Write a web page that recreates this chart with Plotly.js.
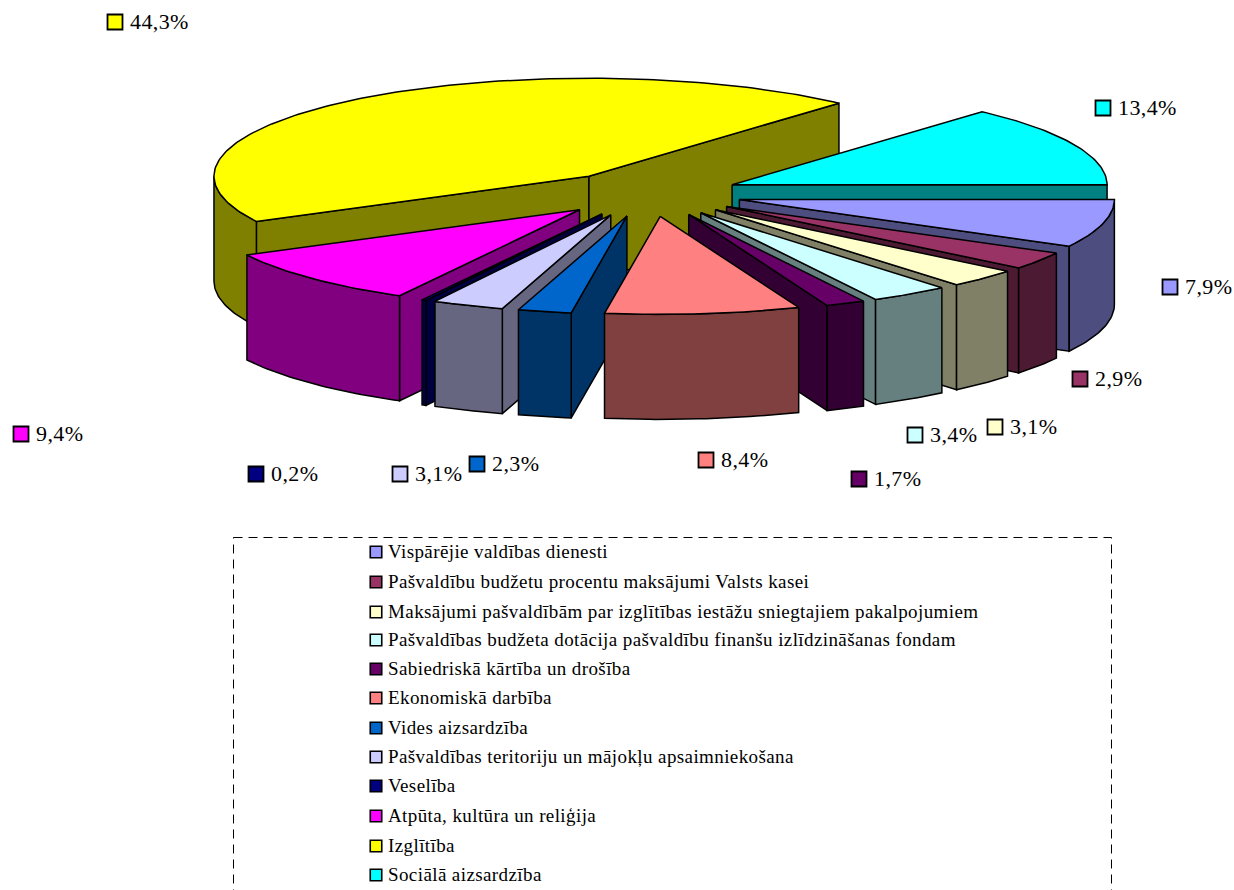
<!DOCTYPE html>
<html>
<head>
<meta charset="utf-8">
<script src="https://cdn.plot.ly/plotly-3.0.1.min.js"></script>
<style>html,body{margin:0;padding:0;background:#fff;overflow:hidden}
.annotation-text{letter-spacing:.4px}</style>
</head>
<body>
<div id="chart" style="width:1234px;height:890px"></div>
<script>
// Data
const categories = [
  "Vispārējie valdības dienesti",
  "Pašvaldību budžetu procentu maksājumi Valsts kasei",
  "Maksājumi pašvaldībām par izglītības iestāžu sniegtajiem pakalpojumiem",
  "Pašvaldības budžeta dotācija pašvaldību finanšu izlīdzināšanas fondam",
  "Sabiedriskā kārtība un drošība",
  "Ekonomiskā darbība",
  "Vides aizsardzība",
  "Pašvaldības teritoriju un mājokļu apsaimniekošana",
  "Veselība",
  "Atpūta, kultūra un reliģija",
  "Izglītība",
  "Sociālā aizsardzība"
];
const shares = [7.9, 2.9, 3.1, 3.4, 1.7, 8.4, 2.3, 3.1, 0.2, 9.4, 44.3, 13.4];
const shareLabels = ["7,9%","2,9%","3,1%","3,4%","1,7%","8,4%","2,3%","3,1%","0,2%","9,4%","44,3%","13,4%"];

// Styles
const topColors  = ["#9999FF","#993366","#FFFFCC","#CCFFFF","#660066","#FF8080","#0066CC","#CCCCFF","#000080","#FF00FF","#FFFF00","#00FFFF"];
const wallColors = ["#4D4D80","#4D1A33","#808066","#668080","#330033","#804040","#003366","#666680","#000040","#800080","#808000","#008080"];

// Layout of the drawing
const cx = 646.5, cy = 194, rx = 375, ry = 98, depth = 105, explodeX = 0.25, explodeY = 0.23;
const sliceNudgeX = [2,2,2,2,3,3,1,0,0,0,0,0];
const labelKeyX = [1170,1080,995,915,859,706,477,400,256,21,115,1103];
const labelKeyY = [287,379,427,435,479,460,464,474,474,434,22,108];
const legendKeyX = 376;
const legendKeyY = [552,582,612,640,669,698,728,757,786,816,846,875];
const LINE = "#000000";

const total = shares.reduce((a,b)=>a+b,0);
let acc = 0;
const slices = shares.map((v,i)=>{
  const a0 = acc/total*360; acc += v; const a1 = acc/total*360;
  const mid = (a0+a1)/2*Math.PI/180;
  return {i, a0, a1, ax: cx+explodeX*rx*Math.cos(mid)+sliceNudgeX[i], ay: cy+explodeY*ry*Math.sin(mid)};
});
function pt(s,deg,dz){const t=deg*Math.PI/180;return [s.ax+rx*Math.cos(t), s.ay+ry*Math.sin(t)+(dz||0)];}
function arc(s,a,b,dz){const n=Math.max(2,Math.ceil(Math.abs(b-a)));const o=[];for(let k=0;k<=n;k++)o.push(pt(s,a+(b-a)*k/n,dz));return o;}
function poly(points,fill){
  const c=points.concat([points[0]]);
  return {type:"scatter",mode:"lines",x:c.map(p=>p[0]),y:c.map(p=>p[1]),fill:"toself",fillcolor:fill,
    line:{color:LINE,width:1.5,shape:"linear"},hoverinfo:"skip",showlegend:false};
}
const cosd=d=>Math.cos(d*Math.PI/180);
const traces=[];
slices.slice().sort((p,q)=>p.ay-q.ay).forEach(s=>{
  const wall=wallColors[s.i], top=topColors[s.i], apex=[s.ax,s.ay], apexB=[s.ax,s.ay+depth];
  if(cosd(s.a0)<0) traces.push(poly([apex,pt(s,s.a0,0),pt(s,s.a0,depth),apexB],wall));
  if(cosd(s.a1)>0) traces.push(poly([apex,pt(s,s.a1,0),pt(s,s.a1,depth),apexB],wall));
  const hi=Math.min(s.a1,180);
  if(s.a0<hi) traces.push(poly(arc(s,s.a0,hi,0).concat(arc(s,hi,s.a0,depth)),wall));
  traces.push(poly([apex].concat(arc(s,s.a0,s.a1,0)),top));
});
// key squares
traces.push({type:"scatter",mode:"markers",x:labelKeyX,y:labelKeyY,
  marker:{symbol:"square",size:15,color:topColors,line:{color:"#000",width:1.8}},hoverinfo:"skip",showlegend:false});
traces.push({type:"scatter",mode:"markers",x:legendKeyY.map(()=>legendKeyX),y:legendKeyY,
  marker:{symbol:"square",size:11.5,color:topColors,line:{color:"#000",width:1.6}},hoverinfo:"skip",showlegend:false});

const serif="'Liberation Serif','Times New Roman',serif";
const annotations=[];
shareLabels.forEach((t,i)=>annotations.push({x:labelKeyX[i]+14,y:labelKeyY[i]-1,xref:"x",yref:"y",text:t,showarrow:false,
  xanchor:"left",yanchor:"middle",borderpad:0,font:{family:serif,size:22,color:"#000"}}));
categories.forEach((t,i)=>annotations.push({x:legendKeyX+11,y:legendKeyY[i]-1,xref:"x",yref:"y",text:t,showarrow:false,
  xanchor:"left",yanchor:"middle",borderpad:0,font:{family:serif,size:19,color:"#000"}}));

const layout={width:1234,height:890,margin:{l:0,r:0,t:0,b:0},paper_bgcolor:"#fff",plot_bgcolor:"#fff",showlegend:false,
  xaxis:{range:[0,1234],visible:false,fixedrange:true},
  yaxis:{range:[890,0],visible:false,fixedrange:true},
  shapes:[{type:"rect",xref:"x",yref:"y",x0:233.5,x1:1111.5,y0:537.5,y1:905,line:{color:"#000",width:1,dash:"9px,6px"},fillcolor:"rgba(0,0,0,0)"}],
  annotations};
Plotly.newPlot("chart",traces,layout,{staticPlot:true,displayModeBar:false});
</script>
</body>
</html>
